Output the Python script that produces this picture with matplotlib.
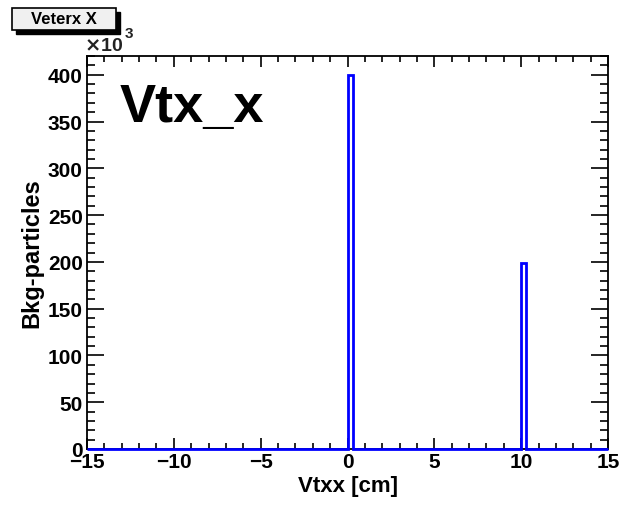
import numpy as np
import matplotlib
matplotlib.use("Agg")
import matplotlib.pyplot as plt
from matplotlib.ticker import MultipleLocator
from matplotlib.patches import Rectangle

# histogram range in cm, counts in units of 10^3
x_lo, x_hi = -15.0, 15.0
bin_width = 0.3
peak_bin_left = [0.0, 10.0]
peak_counts = [400.0, 199.0]

# edges: empty stretch, filled bin, empty stretch, ...
edges = [x_lo]
counts = []
for lo, c in zip(peak_bin_left, peak_counts):
    edges += [lo, lo + bin_width]
    counts += [0.0, c]
edges.append(x_hi)
counts.append(0.0)

plt.rcParams['font.family'] = ['Liberation Sans', 'DejaVu Sans']
plt.rcParams['font.weight'] = 'bold'

fig = plt.figure(figsize=(6.24, 5.06), dpi=100)
ax = fig.add_axes([87/624, 1 - 450/506, (608 - 87)/624, (450 - 57)/506])

ax.stairs(counts, edges, color='#0000ff', linewidth=2.0, baseline=0, clip_on=False, zorder=3)

ax.set_xlim(x_lo, x_hi)
ax.set_ylim(0, 420)

ax.xaxis.set_major_locator(MultipleLocator(5))
ax.xaxis.set_minor_locator(MultipleLocator(1))
ax.yaxis.set_major_locator(MultipleLocator(50))
ax.yaxis.set_minor_locator(MultipleLocator(10))

ax.tick_params(which='both', direction='in', top=True, right=True, width=1.2, color='black')
ax.tick_params(axis='x', which='major', length=8, labelsize=15, pad=2)
ax.tick_params(axis='x', which='minor', length=4.5)
ax.tick_params(axis='y', which='major', length=12, labelsize=15, pad=3)
ax.tick_params(axis='y', which='minor', length=6)
for lab in ax.get_xticklabels() + ax.get_yticklabels():
    lab.set_fontweight('bold')

for s in ax.spines.values():
    s.set_linewidth(1.3)

ax.set_xlabel('Vtxx [cm]', fontsize=16, fontweight='bold', labelpad=3)
ax.set_ylabel('Bkg-particles', fontsize=17, fontweight='bold', labelpad=3)

# exponent label
fig.text(84/624, 1 - 55/506, r'$\times$10', fontsize=14, ha='left', va='bottom', color='#222222')
fig.text(125/624, 1 - 41/506, '3', fontsize=11, ha='left', va='bottom', color='#222222')

# big annotation
ax.text(0.062, 0.935, 'Vtx_x', transform=ax.transAxes, fontsize=39, fontweight='bold',
        ha='left', va='top')

# title box with shadow
fig.patches.append(Rectangle((16/624, 1 - 35/506), 104/624, 22/506, transform=fig.transFigure,
                             facecolor='black', edgecolor='black', zorder=1))
fig.patches.append(Rectangle((12/624, 1 - 31/506), 104/624, 22/506, transform=fig.transFigure,
                             facecolor='#f0f0f0', edgecolor='black', linewidth=1.2, zorder=2))
fig.text(64/624, 1 - 20/506, 'Veterx X', fontsize=12, fontweight='bold', ha='center', va='center',
         zorder=3)

fig.savefig('out.png', dpi=100, facecolor='white')
